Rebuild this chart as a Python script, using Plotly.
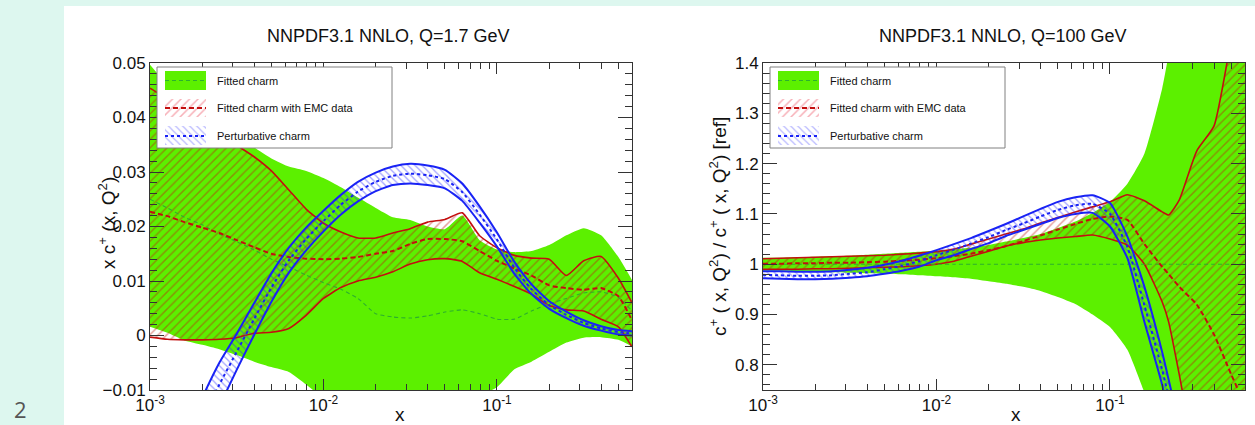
import plotly.graph_objects as go

# ---------------- data ----------------
x_left = [0.001, 0.00126, 0.00158, 0.002, 0.00251, 0.00316, 0.00398, 0.00501, 0.00631, 0.00794,
          0.01, 0.0126, 0.0158, 0.02, 0.0251, 0.0316, 0.0398, 0.0501, 0.0631, 0.0794,
          0.1, 0.126, 0.158, 0.2, 0.251, 0.316, 0.398, 0.501, 0.6]

fit_lo_L = [0.0016, 0.0005, -0.0009, -0.0017, -0.0025, -0.0036, -0.0048, -0.0058, -0.0067, -0.0090,
            -0.0115, -0.013, -0.014, -0.015, -0.015, -0.015, -0.014, -0.013, -0.012, -0.011,
            -0.0095, -0.0062, -0.0048, -0.0030, -0.0013, -0.0004, -0.0003, -0.0008, -0.0020]
fit_hi_L = [0.0497, 0.046, 0.043, 0.040, 0.038, 0.036, 0.0345, 0.0325, 0.0310, 0.0302,
            0.0289, 0.0272, 0.0253, 0.0234, 0.0217, 0.0212, 0.0200, 0.0195, 0.0220, 0.0175,
            0.0158, 0.0153, 0.0155, 0.0166, 0.0184, 0.0197, 0.0184, 0.0144, 0.0102]
fit_mid_L = [0.0250, 0.0234, 0.0217, 0.0203, 0.0186, 0.0172, 0.0157, 0.0140, 0.0126, 0.0111,
             0.0097, 0.0085, 0.0068, 0.0040, 0.0034, 0.0032, 0.0036, 0.0043, 0.0047, 0.0040,
             0.0030, 0.0030, 0.0045, 0.0058, 0.0068, 0.0078, 0.0080, 0.0070, 0.0045]

emc_lo_L = [-0.0003, -0.0007, -0.0008, -0.0008, -0.0007, -0.0004, 0.0004, 0.0006, 0.0013, 0.0037,
            0.0068, 0.0088, 0.0100, 0.0107, 0.0117, 0.0131, 0.0139, 0.0141, 0.0136, 0.0115,
            0.0103, 0.0090, 0.0076, 0.0055, 0.0047, 0.0045, 0.0030, 0.0016, -0.0021]
emc_hi_L = [0.0454, 0.0434, 0.0412, 0.0392, 0.0371, 0.0349, 0.0328, 0.0302, 0.0267, 0.0232,
            0.0206, 0.0190, 0.0179, 0.0179, 0.0188, 0.0196, 0.0208, 0.0213, 0.0225, 0.0183,
            0.0161, 0.0147, 0.0142, 0.0140, 0.0110, 0.0137, 0.0145, 0.0105, 0.0060]
emc_mid_L = [0.0227, 0.0219, 0.0208, 0.0198, 0.0188, 0.0175, 0.0162, 0.0150, 0.0144, 0.0141,
             0.0140, 0.0141, 0.0144, 0.0150, 0.0155, 0.0168, 0.0177, 0.0177, 0.0173, 0.0155,
             0.0137, 0.0123, 0.0110, 0.0092, 0.0087, 0.0084, 0.0087, 0.0072, 0.0028]

pert_lo_L = [-0.0445, -0.0353, -0.0272, -0.0196, -0.0130, -0.0063, 0.0001, 0.0062, 0.0115, 0.0156,
             0.0191, 0.0222, 0.0246, 0.0265, 0.0276, 0.0279, 0.0276, 0.0270, 0.0247, 0.0207,
             0.0163, 0.0113, 0.0076, 0.0049, 0.0032, 0.0018, 0.0009, 0.0002, 0.0000]
pert_hi_L = [-0.0355, -0.0267, -0.0188, -0.0114, -0.0050, 0.0003, 0.0059, 0.0114, 0.0161, 0.0198,
             0.0229, 0.0258, 0.0282, 0.0299, 0.0310, 0.0315, 0.0312, 0.0304, 0.0279, 0.0237,
             0.0189, 0.0135, 0.0094, 0.0063, 0.0044, 0.0028, 0.0017, 0.0010, 0.0008]
pert_mid_L = [-0.040, -0.031, -0.023, -0.0155, -0.0090, -0.0030, 0.0030, 0.0088, 0.0138, 0.0177,
              0.0210, 0.0240, 0.0264, 0.0282, 0.0293, 0.0297, 0.0294, 0.0287, 0.0263, 0.0222,
              0.0176, 0.0124, 0.0085, 0.0056, 0.0038, 0.0023, 0.0013, 0.0006, 0.0004]

x_right = [0.001, 0.00126, 0.00158, 0.002, 0.00251, 0.00316, 0.00398, 0.00501, 0.00631, 0.00794,
           0.01, 0.0126, 0.0158, 0.02, 0.0251, 0.0316, 0.0398, 0.0501, 0.0631, 0.0794,
           0.1, 0.126, 0.158, 0.2, 0.218, 0.251, 0.316, 0.398, 0.501, 0.6]

fit_lo_R = [0.987, 0.987, 0.986, 0.985, 0.984, 0.983, 0.982, 0.981, 0.980, 0.978,
            0.976, 0.974, 0.971, 0.966, 0.961, 0.955, 0.947, 0.935, 0.921, 0.900,
            0.875, 0.830, 0.745, 0.65, 0.60, 0.50, 0.40, 0.30, 0.20, 0.10]
fit_hi_R = [1.013, 1.013, 1.014, 1.015, 1.016, 1.017, 1.019, 1.021, 1.023, 1.025,
            1.027, 1.030, 1.033, 1.038, 1.045, 1.052, 1.060, 1.072, 1.085, 1.102,
            1.124, 1.160, 1.220, 1.350, 1.42, 1.60, 1.80, 2.0, 2.2, 2.4]
fit_mid_R = [1.0] * 30

emc_lo_R = [0.990, 0.990, 0.990, 0.991, 0.991, 0.992, 0.993, 0.994, 0.995, 0.997,
            1.000, 1.006, 1.016, 1.026, 1.036, 1.043, 1.048, 1.052, 1.055, 1.058,
            1.050, 1.038, 1.000, 0.925, 0.885, 0.78, 0.60, 0.50, 0.40, 0.30]
emc_hi_R = [1.011, 1.012, 1.013, 1.014, 1.015, 1.016, 1.017, 1.018, 1.020, 1.022,
            1.025, 1.030, 1.040, 1.050, 1.060, 1.070, 1.082, 1.093, 1.104, 1.114,
            1.124, 1.138, 1.126, 1.104, 1.098, 1.128, 1.225, 1.275, 1.45, 1.60]
emc_mid_R = [1.001, 1.001, 1.002, 1.002, 1.003, 1.003, 1.004, 1.005, 1.007, 1.009,
             1.012, 1.016, 1.021, 1.028, 1.036, 1.046, 1.057, 1.069, 1.080, 1.090,
             1.095, 1.088, 1.040, 0.995, 0.980, 0.955, 0.920, 0.860, 0.780, 0.720]

pert_lo_R = [0.972, 0.971, 0.970, 0.970, 0.971, 0.973, 0.976, 0.981, 0.987, 0.995,
             1.008, 1.018, 1.030, 1.042, 1.056, 1.068, 1.080, 1.092, 1.100, 1.102,
             1.075, 1.012, 0.885, 0.760, 0.700, 0.60, 0.50, 0.40, 0.30, 0.25]
pert_hi_R = [0.986, 0.986, 0.985, 0.985, 0.986, 0.989, 0.993, 0.999, 1.007, 1.017,
             1.028, 1.040, 1.052, 1.066, 1.080, 1.095, 1.110, 1.124, 1.133, 1.137,
             1.122, 1.055, 0.955, 0.825, 0.770, 0.68, 0.55, 0.45, 0.35, 0.30]
pert_mid_R = [0.979, 0.978, 0.977, 0.977, 0.978, 0.981, 0.984, 0.990, 0.997, 1.006,
              1.018, 1.029, 1.041, 1.054, 1.068, 1.081, 1.095, 1.108, 1.117, 1.120,
              1.100, 1.034, 0.918, 0.790, 0.735, 0.64, 0.52, 0.42, 0.32, 0.27]

x_tickvals = [0.001, 0.01, 0.1]
x_ticktext = ["10<sup>-3</sup>", "10<sup>-2</sup>", "10<sup>-1</sup>"]
x_minor = [2e-3, 3e-3, 4e-3, 5e-3, 6e-3, 7e-3, 8e-3, 9e-3,
           2e-2, 3e-2, 4e-2, 5e-2, 6e-2, 7e-2, 8e-2, 9e-2,
           0.2, 0.3, 0.4, 0.5]
yL_tickvals = [-0.01, 0, 0.01, 0.02, 0.03, 0.04, 0.05]
yL_ticktext = ["\u22120.01", "0", "0.01", "0.02", "0.03", "0.04", "0.05"]
yR_tickvals = [0.8, 0.9, 1.0, 1.1, 1.2, 1.3, 1.4]
yR_ticktext = ["0.8", "0.9", "1", "1.1", "1.2", "1.3", "1.4"]

titles = ["NNPDF3.1 NNLO, Q=1.7 GeV", "NNPDF3.1 NNLO, Q=100 GeV"]
legend_labels = ["Fitted charm", "Fitted charm with EMC data", "Perturbative charm"]

# ---------------- style ----------------
W, H = 1255, 425
FONT = "Liberation Sans, Arial, Helvetica, sans-serif"
GREEN = "rgb(92,240,0)"
GREEN_DASH = "rgb(45,175,45)"
RED = "rgb(195,15,15)"
RED_HATCH = "rgba(190,25,15,0.85)"
BLUE = "rgb(25,35,245)"
BLUE_HATCH = "rgba(45,45,255,0.9)"
MINT = "#ddf7ef"


def fx(p):
    return p / W


def fy(p):
    return 1 - p / H


fig = go.Figure()


def add_panel(xv, glo, ghi, gmid, rlo, rhi, rmid, blo, bhi, bmid, xa, ya):
    c = dict(xaxis=xa, yaxis=ya, showlegend=False, hoverinfo="skip", mode="lines")
    sp = dict(shape="spline", smoothing=0.5)
    fig.add_trace(go.Scatter(x=xv, y=glo, line=dict(width=0, color=GREEN, **sp), **c))
    fig.add_trace(go.Scatter(x=xv, y=ghi, line=dict(width=0, color=GREEN, **sp),
                             fill="tonexty", fillcolor=GREEN, **c))
    fig.add_trace(go.Scatter(x=xv, y=rlo, line=dict(width=1.6, color=RED, **sp), **c))
    fig.add_trace(go.Scatter(x=xv, y=rhi, line=dict(width=1.6, color=RED, **sp),
                             fill="tonexty", fillcolor="rgba(0,0,0,0)",
                             fillpattern=dict(shape="/", fgcolor=RED_HATCH, bgcolor="rgba(0,0,0,0)",
                                              size=6, solidity=0.25, fillmode="overlay"), **c))
    fig.add_trace(go.Scatter(x=xv, y=gmid, line=dict(width=1.1, color=GREEN_DASH, dash="4px,3px", **sp), **c))
    fig.add_trace(go.Scatter(x=xv, y=rmid, line=dict(width=2, color=RED, dash="5px,3px", **sp), **c))
    fig.add_trace(go.Scatter(x=xv, y=blo, line=dict(width=2, color=BLUE, **sp), **c))
    fig.add_trace(go.Scatter(x=xv, y=bhi, line=dict(width=2, color=BLUE, **sp),
                             fill="tonexty", fillcolor="rgba(0,0,0,0)",
                             fillpattern=dict(shape="\\", fgcolor=BLUE_HATCH, bgcolor="rgba(0,0,0,0)",
                                              size=5, solidity=0.25, fillmode="overlay"), **c))
    fig.add_trace(go.Scatter(x=xv, y=bmid, line=dict(width=2, color=BLUE, dash="3px,3px", **sp), **c))


add_panel(x_left, fit_lo_L, fit_hi_L, fit_mid_L, emc_lo_L, emc_hi_L, emc_mid_L,
          pert_lo_L, pert_hi_L, pert_mid_L, "x", "y")
add_panel(x_right, fit_lo_R, fit_hi_R, fit_mid_R, emc_lo_R, emc_hi_R, emc_mid_R,
          pert_lo_R, pert_hi_R, pert_mid_R, "x2", "y2")

# ---------------- legends (drawn on a full-figure pixel overlay) ----------------
ov = dict(xaxis="x3", yaxis="y3", showlegend=False, hoverinfo="skip", mode="lines")
for off in (0, 613):
    bx0, bx1, by0, by1 = 157 + off, 392 + off, 67, 148
    fig.add_trace(go.Scatter(x=[bx0, bx1, bx1, bx0, bx0], y=[by0, by0, by1, by1, by0],
                             fill="toself", fillcolor="white", line=dict(color="#808080", width=1), **ov))
    sx0, sx1 = 165 + off, 206 + off
    fig.add_trace(go.Scatter(x=[sx0, sx1, sx1, sx0, sx0], y=[71, 71, 90, 90, 71], fill="toself",
                             fillcolor=GREEN, line=dict(width=0, color=GREEN), **ov))
    fig.add_trace(go.Scatter(x=[sx0, sx1], y=[80.5, 80.5], line=dict(width=1.1, color=GREEN_DASH, dash="4px,3px"), **ov))
    fig.add_trace(go.Scatter(x=[sx0, sx1, sx1, sx0, sx0], y=[99, 99, 117, 117, 99], fill="toself",
                             fillcolor="rgba(0,0,0,0)", line=dict(width=0, color=RED),
                             fillpattern=dict(shape="/", fgcolor="rgba(235,60,80,0.8)", bgcolor="rgba(0,0,0,0)",
                                              size=6, solidity=0.25, fillmode="overlay"), **ov))
    fig.add_trace(go.Scatter(x=[sx0, sx1], y=[108, 108], line=dict(width=2, color=RED, dash="5px,3px"), **ov))
    fig.add_trace(go.Scatter(x=[sx0, sx1, sx1, sx0, sx0], y=[126, 126, 145, 145, 126], fill="toself",
                             fillcolor="rgba(0,0,0,0)", line=dict(width=0, color=BLUE),
                             fillpattern=dict(shape="\\", fgcolor="rgba(80,80,255,0.8)", bgcolor="rgba(0,0,0,0)",
                                              size=5, solidity=0.25, fillmode="overlay"), **ov))
    fig.add_trace(go.Scatter(x=[sx0, sx1], y=[136, 136], line=dict(width=2, color=BLUE, dash="3px,3px"), **ov))

annotations = []
for off in (0, 613):
    for ty, lab in zip((80.5, 108, 136), legend_labels):
        annotations.append(dict(x=fx(215 + off), y=fy(ty), xref="paper", yref="paper", text=lab,
                                showarrow=False, xanchor="left", yanchor="middle",
                                font=dict(family=FONT, size=11, color="#111")))

for cx, t in zip((388, 1003), titles):
    annotations.append(dict(x=fx(cx), y=fy(36), xref="paper", yref="paper", text=t, showarrow=False,
                            xanchor="center", yanchor="middle", font=dict(family=FONT, size=18, color="#111")))
for cx in (400, 1016):
    annotations.append(dict(x=fx(cx), y=fy(414), xref="paper", yref="paper", text="x", showarrow=False,
                            xanchor="center", yanchor="middle", font=dict(family=FONT, size=19, color="#111")))
annotations.append(dict(x=fx(107), y=fy(223), xref="paper", yref="paper",
                        text="x c<sup>+</sup> (x, Q<sup>2</sup>)", textangle=-90, showarrow=False,
                        xanchor="center", yanchor="middle", font=dict(family=FONT, size=19, color="#111")))
annotations.append(dict(x=fx(718), y=fy(227), xref="paper", yref="paper",
                        text="c<sup>+</sup> ( x, Q<sup>2</sup>) / c<sup>+</sup> ( x, Q<sup>2</sup>) [ref]",
                        textangle=-90, showarrow=False, xanchor="center", yanchor="middle",
                        font=dict(family=FONT, size=19, color="#111")))
annotations.append(dict(x=fx(20), y=fy(409), xref="paper", yref="paper", text="2", showarrow=False,
                        xanchor="center", yanchor="middle", font=dict(family="Open Sans, DejaVu Sans", size=22, color="#555")))

shapes = [
    dict(type="rect", xref="paper", yref="paper", x0=0, x1=fx(64), y0=0, y1=1, fillcolor=MINT,
         line=dict(width=0), layer="below"),
    dict(type="rect", xref="paper", yref="paper", x0=0, x1=1, y0=fy(6), y1=1, fillcolor=MINT,
         line=dict(width=0), layer="below"),
]

xcommon = dict(type="log", range=[-3, -0.2218], showgrid=False, zeroline=False, automargin=False,
               showline=True, linecolor="#333", linewidth=1, mirror="ticks",
               ticks="inside", ticklen=11, tickwidth=1, tickcolor="#333",
               tickvals=x_tickvals, ticktext=x_ticktext,
               tickfont=dict(family=FONT, size=17, color="#111"),
               minor=dict(tickmode="array", tickvals=x_minor, ticks="inside", ticklen=6,
                          tickwidth=1, tickcolor="#333", showgrid=False))
ycommon = dict(showgrid=False, zeroline=False, showline=True, linecolor="#333", linewidth=1,
               automargin=False, mirror="ticks", ticks="inside", ticklen=14, tickwidth=1,
               tickcolor="#333", tickfont=dict(family=FONT, size=17, color="#111"))

fig.update_layout(
    width=W, height=H, autosize=False,
    margin=dict(l=0, r=0, t=0, b=0, pad=0, autoexpand=False),
    paper_bgcolor="white", plot_bgcolor="rgba(0,0,0,0)", showlegend=False,
    xaxis=dict(domain=[fx(150), fx(632)], anchor="y", **xcommon),
    yaxis=dict(domain=[fy(390), fy(63)], anchor="x", range=[-0.01, 0.05],
               tickvals=yL_tickvals, ticktext=yL_ticktext,
               minor=dict(dtick=0.002, tick0=0, ticks="inside", ticklen=7, tickwidth=1,
                          tickcolor="#333", showgrid=False), **ycommon),
    xaxis2=dict(domain=[fx(763), fx(1245)], anchor="y2", **xcommon),
    yaxis2=dict(domain=[fy(390), fy(63)], anchor="x2", range=[0.75, 1.4],
                tickvals=yR_tickvals, ticktext=yR_ticktext,
                minor=dict(dtick=0.02, tick0=0, ticks="inside", ticklen=7, tickwidth=1,
                           tickcolor="#333", showgrid=False), **ycommon),
    xaxis3=dict(domain=[0, 1], anchor="y3", range=[0, W], visible=False, fixedrange=True, automargin=False),
    yaxis3=dict(domain=[0, 1], anchor="x3", range=[H, 0], visible=False, fixedrange=True, automargin=False),
    annotations=annotations, shapes=shapes,
)

fig.write_html("out.html", config={"displayModeBar": False, "staticPlot": True},
               post_script="document.body.style.margin='0';document.body.style.padding='0';"
                           "document.body.style.overflow='hidden';")
